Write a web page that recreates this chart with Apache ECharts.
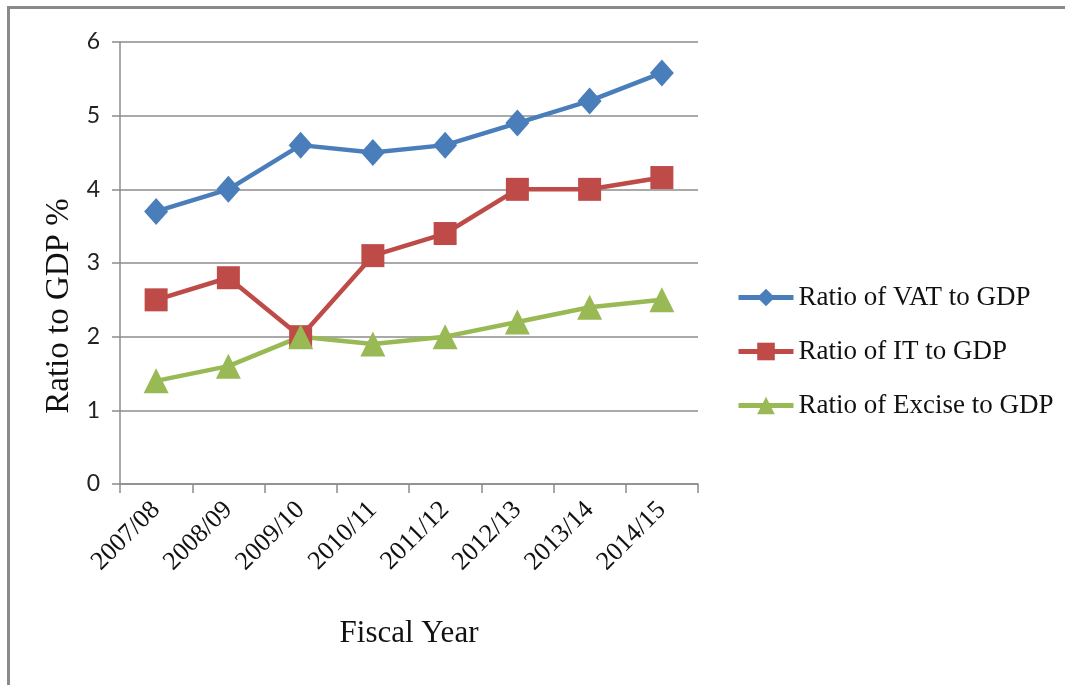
<!DOCTYPE html>
<html>
<head>
<meta charset="utf-8">
<title>Tax to GDP ratios</title>
<script src="https://cdn.jsdelivr.net/npm/echarts@6/dist/echarts.min.js"></script>
<style>
  html, body { margin: 0; padding: 0; background: #ffffff; }
  #chart { width: 1065px; height: 685px; }
</style>
</head>
<body>
<div id="chart"></div>
<script>
// Fiscal years on the category axis
const fiscalYears = ['2007/08', '2008/09', '2009/10', '2010/11', '2011/12', '2012/13', '2013/14', '2014/15'];

// Ratios to GDP, in percent
const vatRatio = [3.7, 4.0, 4.6, 4.5, 4.6, 4.9, 5.2, 5.58];
const itRatio = [2.5, 2.8, 2.0, 3.1, 3.4, 4.0, 4.0, 4.16];
const exciseRatio = [1.4, 1.6, 2.0, 1.9, 2.0, 2.2, 2.4, 2.5];

// Series names shown in the legend
const seriesNames = ['Ratio of VAT to GDP', 'Ratio of IT to GDP', 'Ratio of Excise to GDP'];

const serif = 'Liberation Serif';
const axisGray = '#8c8c8c';

const chart = echarts.init(document.getElementById('chart'), null, { renderer: 'canvas' });

function lineSeries(name, data, color, symbol, size) {
  return {
    name: name,
    type: 'line',
    data: data,
    symbol: symbol,
    symbolSize: size,
    showAllSymbol: true,
    lineStyle: { color: color, width: 4.5 },
    itemStyle: { color: color },
    emphasis: { disabled: true },
    animation: false,
    z: 3
  };
}

chart.setOption({
  backgroundColor: '#ffffff',
  animation: false,
  textStyle: { fontFamily: serif },
  grid: { left: 120, right: 367, top: 42, bottom: 201, containLabel: false },
  legend: {
    orient: 'vertical',
    left: 736,
    top: 284,
    padding: 0,
    itemWidth: 55,
    itemHeight: 22,
    itemGap: 27,
    lineStyle: { width: 5 },
    textStyle: { fontFamily: serif, fontSize: 27, color: '#111111' },
    data: seriesNames
  },
  xAxis: [{
    type: 'category',
    data: fiscalYears,
    boundaryGap: true,
    name: 'Fiscal Year',
    nameLocation: 'middle',
    nameGap: 134,
    nameTextStyle: { fontFamily: serif, fontSize: 31, color: '#111111' },
    axisLine: { show: true, lineStyle: { color: axisGray, width: 1.5 } },
    axisTick: { show: true, length: 9, alignWithLabel: false, lineStyle: { color: axisGray, width: 1.5 } },
    axisLabel: {
      show: true,
      rotate: 45,
      margin: 22,
      interval: 0,
      fontFamily: serif,
      fontSize: 26,
      color: '#111111'
    },
    splitLine: { show: false }
  }],
  yAxis: [{
    type: 'value',
    min: 0,
    max: 6,
    interval: 1,
    name: 'Ratio to GDP %',
    nameLocation: 'middle',
    nameRotate: 90,
    nameGap: 40,
    nameTextStyle: { fontFamily: serif, fontSize: 33, color: '#111111', padding: [0, 86, 0, 0] },
    axisLine: { show: true, lineStyle: { color: axisGray, width: 1.5 } },
    axisTick: { show: true, inside: false, length: 8, lineStyle: { color: axisGray, width: 1.5 } },
    axisLabel: {
      margin: 20,
      fontFamily: 'Lato',
      fontSize: 23,
      color: '#222222'
    },
    splitLine: { show: true, lineStyle: { color: axisGray, width: 1.5 } }
  }],
  series: [
    lineSeries(seriesNames[0], vatRatio, '#4a7ebb', 'diamond', [24, 27]),
    lineSeries(seriesNames[1], itRatio, '#be4b48', 'rect', 23),
    lineSeries(seriesNames[2], exciseRatio, '#98b954', 'triangle', [25, 25])
  ],
  graphic: [
    // frame lines along the top and left edges
    { type: 'line', shape: { x1: 8, y1: 7.5, x2: 1065, y2: 7.5 }, style: { stroke: '#8a8a8a', lineWidth: 3 }, silent: true },
    { type: 'line', shape: { x1: 8.5, y1: 6, x2: 8.5, y2: 685 }, style: { stroke: '#8a8a8a', lineWidth: 3 }, silent: true }
  ]
});
</script>
</body>
</html>
